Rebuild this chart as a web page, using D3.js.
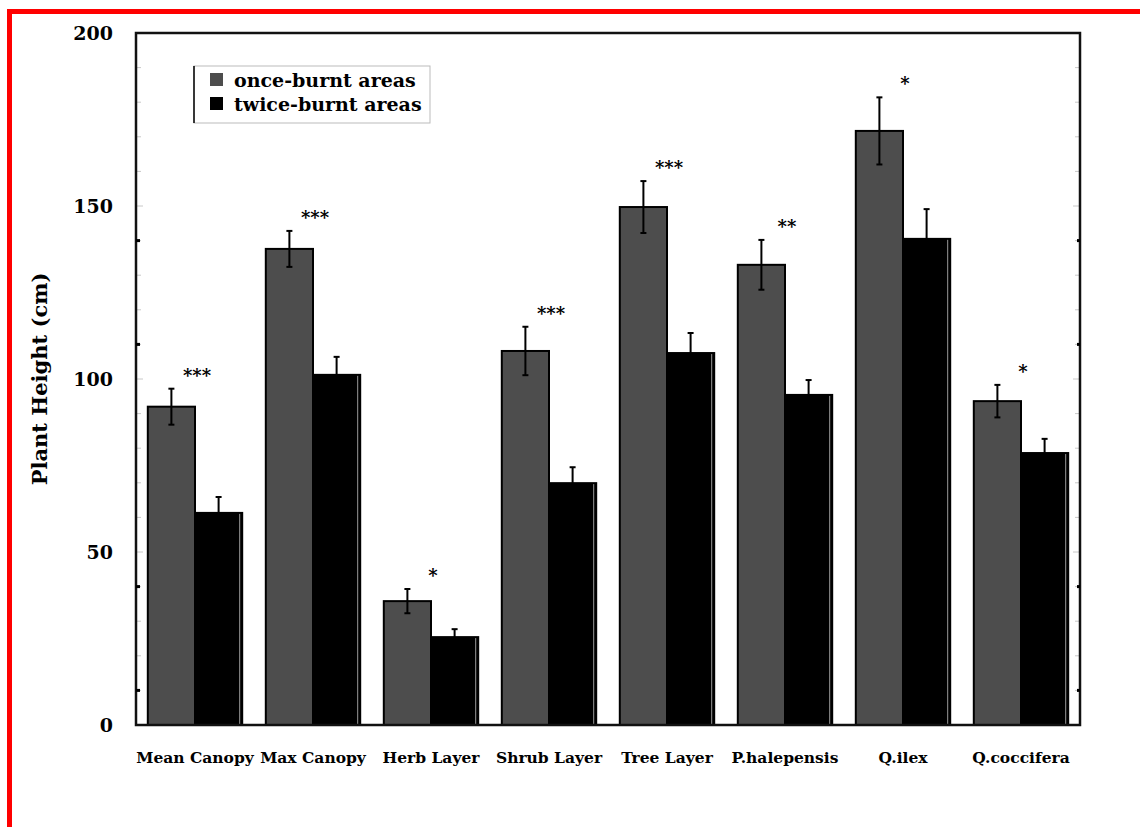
<!DOCTYPE html>
<html>
<head>
<meta charset="utf-8">
<script src="https://cdn.jsdelivr.net/npm/d3@7"></script>
<style>
  html, body { margin: 0; padding: 0; background: #fff; }
  svg { display: block; }
  text { font-family: "DejaVu Serif", serif; font-weight: bold; fill: #000; }
</style>
</head>
<body>
<svg id="chart" width="1140" height="827"></svg>
<script>
// Plant height by vegetation layer / species, once- vs twice-burnt areas
const categories = ["Mean Canopy", "Max Canopy", "Herb Layer", "Shrub Layer",
                    "Tree Layer", "P.halepensis", "Q.ilex", "Q.coccifera"];
const seriesNames = ["once-burnt areas", "twice-burnt areas"];
const onceValues  = [92, 137.6, 35.8, 108.1, 149.7, 133, 171.7, 93.6];
const onceErrors  = [5.2, 5.2, 3.5, 7, 7.5, 7.2, 9.7, 4.7];
const twiceValues = [61.3, 101.2, 25.4, 69.9, 107.5, 95.4, 140.5, 78.6];
const twiceErrors = [4.6, 5.2, 2.3, 4.6, 5.8, 4.3, 8.6, 4.1];
const significance = ["***", "***", "*", "***", "***", "**", "*", "*"];
const yTicks = [0, 50, 100, 150, 200];
const yMinorTicks = d3.range(0, 201, 10);
const yMarkTicks = [10, 40, 110, 140];

const seriesColors = ["#4d4d4d", "#000000"];

const svg = d3.select("#chart");

// outer red frame (runs off the right and bottom edges)
svg.append("rect")
  .attr("x", 9.5).attr("y", 11.5)
  .attr("width", 1300).attr("height", 1000)
  .attr("fill", "none").attr("stroke", "#ff0000").attr("stroke-width", 5);

const plot = { left: 136, top: 33, right: 1080, bottom: 725 };

const x = d3.scaleBand()
  .domain(categories)
  .range([plot.left, plot.right])
  .paddingInner(0.2)
  .paddingOuter(0.1);

const xs = d3.scaleBand()
  .domain(seriesNames)
  .range([0, x.bandwidth()]);

const y = d3.scaleLinear().domain([0, 200]).range([plot.bottom, plot.top]);

// minor ticks, inside both vertical axes
const g = svg.append("g");
g.selectAll("line.minL").data(yMinorTicks).join("line")
  .attr("x1", plot.left).attr("x2", d => plot.left + (d % 50 === 0 ? 7 : 5))
  .attr("y1", d => y(d)).attr("y2", d => y(d))
  .attr("stroke", "#c8c8c8").attr("stroke-width", 1);
g.selectAll("line.minR").data(yMinorTicks).join("line")
  .attr("x1", plot.right).attr("x2", d => plot.right - (d % 50 === 0 ? 7 : 5))
  .attr("y1", d => y(d)).attr("y2", d => y(d))
  .attr("stroke", "#c8c8c8").attr("stroke-width", 1);

// bars
const groups = [onceValues, twiceValues];
const errs = [onceErrors, twiceErrors];
const barData = [];
categories.forEach((c, i) => {
  seriesNames.forEach((s, j) => {
    barData.push({ cat: c, series: s, idx: j, value: groups[j][i], err: errs[j][i] });
  });
});

svg.append("g").selectAll("rect").data(barData).join("rect")
  .attr("x", d => x(d.cat) + xs(d.series))
  .attr("y", d => y(d.value))
  .attr("width", xs.bandwidth())
  .attr("height", d => y(0) - y(d.value))
  .attr("fill", d => seriesColors[d.idx])
  .attr("stroke", "#000").attr("stroke-width", 2);

// thin light inner edge on the right of the darker bars
svg.append("g").selectAll("line").data(barData.filter(d => d.idx === 1)).join("line")
  .attr("x1", d => x(d.cat) + xs(d.series) + xs.bandwidth() - 2.5)
  .attr("x2", d => x(d.cat) + xs(d.series) + xs.bandwidth() - 2.5)
  .attr("y1", d => y(d.value) + 1).attr("y2", d => y(0) - 1)
  .attr("stroke", "#9a9a9a").attr("stroke-width", 1);

// error bars
const eb = svg.append("g");
const cx = d => x(d.cat) + xs(d.series) + xs.bandwidth() / 2;
eb.selectAll("line.v").data(barData).join("line")
  .attr("x1", cx).attr("x2", cx)
  .attr("y1", d => y(d.value + d.err)).attr("y2", d => y(d.value - d.err))
  .attr("stroke", "#000").attr("stroke-width", 2);
eb.selectAll("line.t").data(barData).join("line")
  .attr("x1", d => cx(d) - 3).attr("x2", d => cx(d) + 3)
  .attr("y1", d => y(d.value + d.err)).attr("y2", d => y(d.value + d.err))
  .attr("stroke", "#000").attr("stroke-width", 2);
eb.selectAll("line.b").data(barData).join("line")
  .attr("x1", d => cx(d) - 3).attr("x2", d => cx(d) + 3)
  .attr("y1", d => y(d.value - d.err)).attr("y2", d => y(d.value - d.err))
  .attr("stroke", "#000").attr("stroke-width", 2);

// significance stars above each pair
svg.append("g").selectAll("text").data(categories).join("text")
  .attr("x", (c) => x(c) + x.bandwidth() / 2 + 2)
  .attr("y", (c, i) => y(onceValues[i] + onceErrors[i]) - 7)
  .attr("text-anchor", "middle")
  .attr("font-size", 18)
  .text((c, i) => significance[i]);

// frame of the plot area
svg.append("rect")
  .attr("x", plot.left).attr("y", plot.top)
  .attr("width", plot.right - plot.left).attr("height", plot.bottom - plot.top)
  .attr("fill", "none").attr("stroke", "#111").attr("stroke-width", 2.5);

// small black marks on both vertical axes
svg.append("g").selectAll("rect.mk").data(yMarkTicks).join("rect")
  .attr("x", plot.left).attr("y", d => y(d) - 1.5)
  .attr("width", 4).attr("height", 3).attr("fill", "#000");
svg.append("g").selectAll("rect.mk").data(yMarkTicks).join("rect")
  .attr("x", plot.right - 3).attr("y", d => y(d) - 1.5)
  .attr("width", 3).attr("height", 3).attr("fill", "#000");

// y axis labels
const yAxis = d3.axisLeft(y).tickValues(yTicks).tickSize(0).tickPadding(23);
const ya = svg.append("g").attr("transform", `translate(${plot.left},0)`).call(yAxis);
ya.select(".domain").remove();
ya.selectAll("text")
  .attr("font-size", 19)
  .style("font-family", "DejaVu Serif, serif").style("font-weight", "bold");

// x axis labels
const xAxis = d3.axisBottom(x).tickSize(0).tickPadding(27);
const xa = svg.append("g").attr("transform", `translate(0,${plot.bottom})`).call(xAxis);
xa.select(".domain").remove();
xa.selectAll("text")
  .attr("font-size", 15.5)
  .style("font-family", "DejaVu Serif, serif").style("font-weight", "bold");

// y axis title
svg.append("text")
  .attr("transform", `translate(47,${(plot.top + plot.bottom) / 2}) rotate(-90)`)
  .attr("text-anchor", "middle")
  .attr("font-size", 21)
  .text("Plant Height (cm)");

// legend
const lg = svg.append("g").attr("transform", "translate(194,66)");
lg.append("rect").attr("width", 236).attr("height", 57)
  .attr("fill", "#fff").attr("stroke", "#bbb").attr("stroke-width", 1);
lg.append("line").attr("x1", 0).attr("x2", 0).attr("y1", 0).attr("y2", 57)
  .attr("stroke", "#000").attr("stroke-width", 1.5);
seriesNames.forEach((s, j) => {
  lg.append("rect").attr("x", 16).attr("y", 7 + j * 24)
    .attr("width", 13).attr("height", 13).attr("fill", seriesColors[j]);
  lg.append("text").attr("x", 40).attr("y", 21 + j * 24)
    .attr("font-size", 19).text(s);
});
</script>
</body>
</html>
